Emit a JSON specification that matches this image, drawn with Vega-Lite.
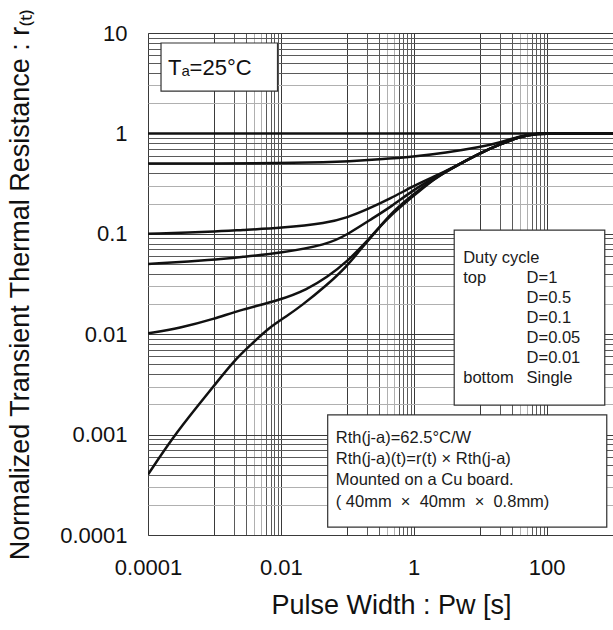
{
  "$schema": "https://vega.github.io/schema/vega-lite/v6.json",
  "width": 465,
  "height": 502,
  "autosize": {"type": "none"},
  "padding": {"left": 148, "top": 33, "right": 0, "bottom": 95},
  "background": "white",
  "config": {
    "font": "Liberation Sans",
    "view": {"stroke": "#888", "strokeWidth": 1}
  },
  "encoding": {
    "x": {
      "field": "x", "type": "quantitative",
      "scale": {"type": "log", "domain": [0.0001, 1000], "nice": false, "zero": false},
      "axis": {
        "title": "Pulse Width : Pw [s]",
        "titleFont": "Liberation Sans", "titleFontSize": 27, "titleFontWeight": "normal", "titleColor": "#111",
        "titlePadding": 14, "titleX": 243,
        "values": [0.0001, 0.001, 0.002, 0.003, 0.004, 0.005, 0.006, 0.007, 0.008, 0.009, 0.01, 0.1, 0.2, 0.3, 0.4, 0.5, 0.6, 0.7, 0.8, 0.9, 1, 10, 20, 30, 40, 50, 60, 70, 80, 90, 100],
        "labelExpr": "(abs(log(datum.value)/LN10 - round(log(datum.value)/LN10)) < 1e-6 && round(log(datum.value)/LN10) % 2 == 0) ? (datum.value >= 1 ? format(datum.value, 'd') : format(datum.value, '.' + (-round(log(datum.value)/LN10)) + 'f')) : ''",
        "labelFontSize": 22, "labelColor": "#111", "labelPadding": 22,
        "labelFlush": false, "labelOverlap": false,
        "ticks": false, "domain": false,
        "grid": true, "gridWidth": 1,
        "gridColor": {"condition": [
          {"test": "round(datum.value / pow(10, floor(log(datum.value)/LN10 + 1e-9))) == 1", "value": "#3a3a3a"},
          {"test": "round(datum.value / pow(10, floor(log(datum.value)/LN10 + 1e-9))) == 4 || round(datum.value / pow(10, floor(log(datum.value)/LN10 + 1e-9))) == 5", "value": "#b0b0b0"}
        ], "value": "#5a5a5a"}
      }
    },
    "y": {
      "field": "y", "type": "quantitative",
      "scale": {"type": "log", "domain": [0.0001, 10], "nice": false, "zero": false},
      "axis": {
        "title": "Normalized Transient Thermal Resistance : r₍ₜ₎",
        "titleFont": "Liberation Sans", "titleFontSize": 27, "titleFontWeight": "normal", "titleColor": "#111",
        "titlePadding": 25,
        "values": [0.0001, 0.0002, 0.0003, 0.0004, 0.0005, 0.0006, 0.0007, 0.0008, 0.0009, 0.001, 0.002, 0.003, 0.004, 0.005, 0.006, 0.007, 0.008, 0.009, 0.01, 0.02, 0.03, 0.04, 0.05, 0.06, 0.07, 0.08, 0.09, 0.1, 0.2, 0.3, 0.4, 0.5, 0.6, 0.7, 0.8, 0.9, 1, 2, 3, 4, 5, 6, 7, 8, 9, 10],
        "labelExpr": "abs(log(datum.value)/LN10 - round(log(datum.value)/LN10)) < 1e-6 ? (datum.value >= 1 ? format(datum.value, 'd') : format(datum.value, '.' + (-round(log(datum.value)/LN10)) + 'f')) : ''",
        "labelFontSize": 22, "labelColor": "#111", "labelPadding": 21,
        "labelFlush": false, "labelOverlap": false,
        "ticks": false, "domain": false,
        "grid": true, "gridWidth": 1,
        "gridColor": {"condition": [
          {"test": "round(datum.value / pow(10, floor(log(datum.value)/LN10 + 1e-9))) == 1", "value": "#3a3a3a"},
          {"test": "round(datum.value / pow(10, floor(log(datum.value)/LN10 + 1e-9))) == 2 || round(datum.value / pow(10, floor(log(datum.value)/LN10 + 1e-9))) == 3", "value": "#b0b0b0"}
        ], "value": "#5a5a5a"}
      }
    }
  },
  "layer": [
    {
      "data": {"values": [
        {"series": "D=1", "x": 0.0001, "y": 1},
        {"series": "D=1", "x": 1000, "y": 1},
        {"series": "D=0.5", "x": 0.0001, "y": 0.5},
        {"series": "D=0.5", "x": 0.001, "y": 0.5},
        {"series": "D=0.5", "x": 0.01, "y": 0.505},
        {"series": "D=0.5", "x": 0.05, "y": 0.515},
        {"series": "D=0.5", "x": 0.1, "y": 0.525},
        {"series": "D=0.5", "x": 0.3, "y": 0.55},
        {"series": "D=0.5", "x": 1, "y": 0.585},
        {"series": "D=0.5", "x": 3, "y": 0.64},
        {"series": "D=0.5", "x": 10, "y": 0.73},
        {"series": "D=0.5", "x": 20, "y": 0.81},
        {"series": "D=0.5", "x": 40, "y": 0.94},
        {"series": "D=0.5", "x": 70, "y": 1},
        {"series": "D=0.5", "x": 150, "y": 1},
        {"series": "D=0.5", "x": 1000, "y": 1},
        {"series": "D=0.1", "x": 0.0001, "y": 0.1},
        {"series": "D=0.1", "x": 0.001, "y": 0.105},
        {"series": "D=0.1", "x": 0.0025, "y": 0.109},
        {"series": "D=0.1", "x": 0.01, "y": 0.114},
        {"series": "D=0.1", "x": 0.05, "y": 0.128},
        {"series": "D=0.1", "x": 0.1, "y": 0.145},
        {"series": "D=0.1", "x": 0.2, "y": 0.175},
        {"series": "D=0.1", "x": 0.45, "y": 0.225},
        {"series": "D=0.1", "x": 1, "y": 0.3},
        {"series": "D=0.1", "x": 2, "y": 0.37},
        {"series": "D=0.1", "x": 3.3, "y": 0.43},
        {"series": "D=0.1", "x": 10, "y": 0.64},
        {"series": "D=0.1", "x": 20, "y": 0.78},
        {"series": "D=0.1", "x": 40, "y": 0.93},
        {"series": "D=0.1", "x": 70, "y": 1},
        {"series": "D=0.1", "x": 150, "y": 1},
        {"series": "D=0.1", "x": 1000, "y": 1},
        {"series": "D=0.05", "x": 0.0001, "y": 0.05},
        {"series": "D=0.05", "x": 0.001, "y": 0.055},
        {"series": "D=0.05", "x": 0.0025, "y": 0.0587},
        {"series": "D=0.05", "x": 0.01, "y": 0.0645},
        {"series": "D=0.05", "x": 0.05, "y": 0.078},
        {"series": "D=0.05", "x": 0.1, "y": 0.098},
        {"series": "D=0.05", "x": 0.25, "y": 0.145},
        {"series": "D=0.05", "x": 0.45, "y": 0.185},
        {"series": "D=0.05", "x": 1, "y": 0.275},
        {"series": "D=0.05", "x": 2, "y": 0.36},
        {"series": "D=0.05", "x": 3.3, "y": 0.43},
        {"series": "D=0.05", "x": 10, "y": 0.64},
        {"series": "D=0.05", "x": 20, "y": 0.78},
        {"series": "D=0.05", "x": 40, "y": 0.93},
        {"series": "D=0.05", "x": 70, "y": 1},
        {"series": "D=0.05", "x": 150, "y": 1},
        {"series": "D=0.05", "x": 1000, "y": 1},
        {"series": "D=0.01", "x": 0.0001, "y": 0.0102},
        {"series": "D=0.01", "x": 0.0003, "y": 0.0115},
        {"series": "D=0.01", "x": 0.001, "y": 0.0142},
        {"series": "D=0.01", "x": 0.0025, "y": 0.0175},
        {"series": "D=0.01", "x": 0.01, "y": 0.022},
        {"series": "D=0.01", "x": 0.025, "y": 0.028},
        {"series": "D=0.01", "x": 0.05, "y": 0.037},
        {"series": "D=0.01", "x": 0.1, "y": 0.053},
        {"series": "D=0.01", "x": 0.2, "y": 0.085},
        {"series": "D=0.01", "x": 0.3, "y": 0.115},
        {"series": "D=0.01", "x": 0.5, "y": 0.17},
        {"series": "D=0.01", "x": 1, "y": 0.25},
        {"series": "D=0.01", "x": 2, "y": 0.35},
        {"series": "D=0.01", "x": 3.3, "y": 0.43},
        {"series": "D=0.01", "x": 10, "y": 0.64},
        {"series": "D=0.01", "x": 20, "y": 0.78},
        {"series": "D=0.01", "x": 40, "y": 0.93},
        {"series": "D=0.01", "x": 70, "y": 1},
        {"series": "D=0.01", "x": 150, "y": 1},
        {"series": "D=0.01", "x": 1000, "y": 1},
        {"series": "Single", "x": 0.0001, "y": 0.0004},
        {"series": "Single", "x": 0.00024, "y": 0.00095},
        {"series": "Single", "x": 0.00055, "y": 0.0019},
        {"series": "Single", "x": 0.001, "y": 0.0031},
        {"series": "Single", "x": 0.002, "y": 0.0055},
        {"series": "Single", "x": 0.0035, "y": 0.0078},
        {"series": "Single", "x": 0.0065, "y": 0.0115},
        {"series": "Single", "x": 0.012, "y": 0.015},
        {"series": "Single", "x": 0.02, "y": 0.019},
        {"series": "Single", "x": 0.05, "y": 0.031},
        {"series": "Single", "x": 0.1, "y": 0.048},
        {"series": "Single", "x": 0.15, "y": 0.067},
        {"series": "Single", "x": 0.25, "y": 0.1},
        {"series": "Single", "x": 0.4, "y": 0.143},
        {"series": "Single", "x": 1, "y": 0.24},
        {"series": "Single", "x": 2, "y": 0.35},
        {"series": "Single", "x": 3.3, "y": 0.43},
        {"series": "Single", "x": 10, "y": 0.64},
        {"series": "Single", "x": 20, "y": 0.78},
        {"series": "Single", "x": 40, "y": 0.93},
        {"series": "Single", "x": 70, "y": 1},
        {"series": "Single", "x": 150, "y": 1},
        {"series": "Single", "x": 1000, "y": 1}
      ]},
      "mark": {"type": "line", "interpolate": "basis", "color": "#111", "strokeWidth": 2.5, "clip": true},
      "encoding": {"detail": {"field": "series", "type": "nominal"}}
    },
    {
      "data": {"values": [
        {"box": "ta", "x": 0.000157, "x2": 0.0089, "y": 7.95, "y2": 2.64},
        {"box": "duty", "x": 4.07, "x2": 752, "y": 0.109, "y2": 0.00197},
        {"box": "rth", "x": 0.0507, "x2": 806, "y": 0.00157, "y2": 0.00012}
      ]},
      "layer": [
        {
          "mark": {"type": "rect", "fill": "#222", "xOffset": 2, "yOffset": 2},
          "encoding": {"x2": {"field": "x2"}, "y2": {"field": "y2"}}
        },
        {
          "mark": {"type": "rect", "fill": "white", "stroke": "#333", "strokeWidth": 1.2},
          "encoding": {"x2": {"field": "x2"}, "y2": {"field": "y2"}}
        }
      ]
    },
    {
      "data": {"values": [
        {"text": "Tₐ=25°C", "x": 0.0002, "y": 3.82}
      ]},
      "mark": {"type": "text", "align": "left", "baseline": "alphabetic", "fontSize": 22, "color": "#111"},
      "encoding": {"text": {"field": "text"}}
    },
    {
      "data": {"values": [
        {"text": "Duty cycle", "x": 5.56, "y": 0.0512},
        {"text": "top", "x": 5.56, "y": 0.0324},
        {"text": "D=1", "x": 50, "y": 0.0324},
        {"text": "D=0.5", "x": 50, "y": 0.0205},
        {"text": "D=0.1", "x": 50, "y": 0.01294},
        {"text": "D=0.05", "x": 50, "y": 0.00817},
        {"text": "D=0.01", "x": 50, "y": 0.00516},
        {"text": "bottom", "x": 5.56, "y": 0.00327},
        {"text": "Single", "x": 50, "y": 0.00327},
        {"text": "Rth(j-a)=62.5°C/W", "x": 0.067, "y": 0.000824},
        {"text": "Rth(j-a)(t)=r(t) × Rth(j-a)", "x": 0.067, "y": 0.000509},
        {"text": "Mounted on a Cu board.", "x": 0.067, "y": 0.000315},
        {"text": "(\u00a040mm\u00a0\u00a0×\u00a0\u00a040mm\u00a0\u00a0×\u00a0\u00a00.8mm)", "x": 0.067, "y": 0.00019}
      ]},
      "mark": {"type": "text", "align": "left", "baseline": "alphabetic", "fontSize": 16.5, "color": "#1a1a1a"},
      "encoding": {"text": {"field": "text"}}
    }
  ]
}
